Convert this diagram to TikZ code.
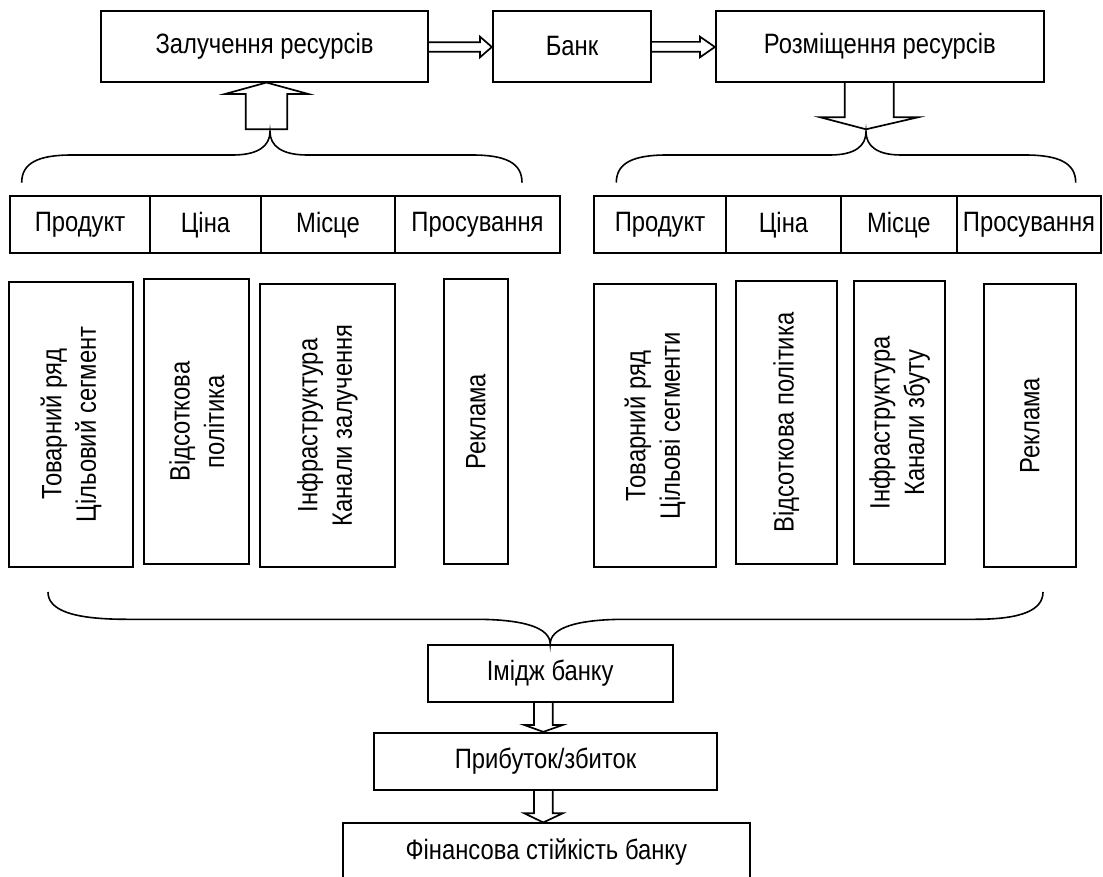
\documentclass[tikz,border=0pt]{standalone}
\usepackage{fontspec}
\setmainfont{Liberation Sans}[FakeStretch=0.85]
\begin{document}
\begin{tikzpicture}[x=1pt,y=-1pt]
\tikzset{
 ln/.style={line width=1.7pt, line join=miter},
 bx/.style={draw, ln, inner sep=0pt, font=\fontsize{28}{34.5}\selectfont, align=center},
 blk/.style={ln},
 brc/.style={line width=1.6pt},
}
\useasboundingbox[fill=white] (0,0) rectangle (1103,877);
% top row
\node[bx, minimum width=327.6pt, minimum height=71pt] (zal) at (264.5,46.2) {Залучення ресурсів};
\node[bx, minimum width=158.6pt, minimum height=71pt] (bank) at (572,46.2) {Банк};
\node[bx, minimum width=328.3pt, minimum height=71pt] (roz) at (879.85,46.2) {Розміщення ресурсів};
% 4P rows
\node[bx, minimum width=140pt, minimum height=57.3pt] (p1) at (80,224.65) {Продукт};
\node[bx, minimum width=111pt, minimum height=57.3pt] (c1) at (205.5,224.65) {Ціна};
\node[bx, minimum width=134pt, minimum height=57.3pt] (m1) at (328,224.65) {Місце};
\node[bx, minimum width=165pt, minimum height=57.3pt] (s1) at (477.5,224.65) {Просування};
\node[bx, minimum width=132.6pt, minimum height=57.3pt] (p2) at (660,224.65) {Продукт};
\node[bx, minimum width=114.4pt, minimum height=57.3pt] (c2) at (783.5,224.65) {Ціна};
\node[bx, minimum width=116.3pt, minimum height=57.3pt] (m2) at (898.85,224.65) {Місце};
\node[bx, minimum width=144pt, minimum height=57.3pt] (s2) at (1029,224.65) {Просування};
% tall boxes
\node[bx, rotate=90, minimum width=285pt, minimum height=123.4pt] (t1) at (71,424.2) {Товарний ряд\\Цільовий сегмент};
\node[bx, rotate=90, minimum width=285.3pt, minimum height=105pt] (t2) at (196.8,421.65) {Відсоткова\\політика};
\node[bx, rotate=90, minimum width=282.7pt, minimum height=135pt] (t3) at (327.5,425.35) {Інфраструктура\\Канали залучення};
\node[bx, rotate=90, minimum width=285.3pt, minimum height=63.7pt] (t4) at (475.85,421.65) {Реклама};
\node[bx, rotate=90, minimum width=283.3pt, minimum height=122.6pt] (r1) at (655,425.65) {Товарний ряд\\Цільові сегменти};
\node[bx, rotate=90, minimum width=283.3pt, minimum height=101.3pt] (r2) at (786.35,422.65) {Відсоткова політика};
\node[bx, rotate=90, minimum width=283.3pt, minimum height=91.6pt] (r3) at (899.5,422.65) {Інфраструктура\\Канали збуту};
\node[bx, rotate=90, minimum width=283.3pt, minimum height=91.7pt] (r4) at (1029.85,425.65) {Реклама};
% bottom chain
\node[bx, minimum width=245pt, minimum height=56.7pt] (im) at (550.2,673.35) {Імідж банку};
\node[bx, minimum width=342.4pt, minimum height=57.3pt] (pr) at (545.5,761.35) {Прибуток/збиток};
\node[bx, minimum width=407.3pt, minimum height=56.7pt] (fin) at (546.35,851.65) {Фінансова стійкість банку};
% block arrows
\draw[blk] (zal.east |- 0,42.2) -- (480,42.2) -- (480,36.7) -- (bank.west |- 0,47) -- (480,57.3) -- (480,51.8) -- (zal.east |- 0,51.8);
\draw[blk] (bank.east |- 0,41.9) -- (700,41.9) -- (700,36.7) -- (roz.west |- 0,47) -- (700,57.3) -- (700,51.8) -- (bank.east |- 0,51.8);
\draw[blk] (245.7,129.3) -- (245.7,94) -- (225,94) -- (zal.south -| 266.5,0) -- (308.3,94) -- (287.3,94) -- (287.3,129.3) -- cycle;
\draw[blk] (roz.south -| 844.7,0) -- (844.7,117.3) -- (820.3,117.3) -- (866,129.3) -- (918,117.3) -- (893.7,117.3) -- (roz.south -| 893.7,0);
\draw[blk] (im.south -| 534,0) -- (534,725) -- (524.3,725) -- (pr.north -| 543.3,0) -- (562.7,725) -- (552.7,725) -- (im.south -| 552.7,0);
\draw[blk] (pr.south -| 534,0) -- (534,813.3) -- (524.3,813.3) -- (fin.north -| 543.3,0) -- (562.7,813.3) -- (552.7,813.3) -- (pr.south -| 552.7,0);
% braces
\draw[brc] (21.7,182.7) .. controls (21.7,163) and (38,155) .. (72,155) -- (233,155) .. controls (258,155) and (270,146) .. (270,131.7) .. controls (270,146) and (282,155) .. (307,155) -- (472,155) .. controls (506,155) and (522,163) .. (522,182.7);
\draw[brc] (616.3,182.7) .. controls (616.3,163) and (633,155) .. (667,155) -- (830,155) .. controls (855,155) and (866,146) .. (866,131.7) .. controls (866,146) and (877,155) .. (901,155) -- (1025,155) .. controls (1059,155) and (1075.7,163) .. (1075.7,182.7);
\draw[brc] (48,592) .. controls (48,610) and (72,619.3) .. (127,619.3) -- (475,619.3) .. controls (525,619.3) and (im.north |- 0,628) .. (im.north) .. controls (im.north |- 0,628) and (576,619.3) .. (626,619.3) -- (975,619.3) .. controls (1022,619.3) and (1043,610) .. (1043,592);
\end{tikzpicture}
\end{document}
